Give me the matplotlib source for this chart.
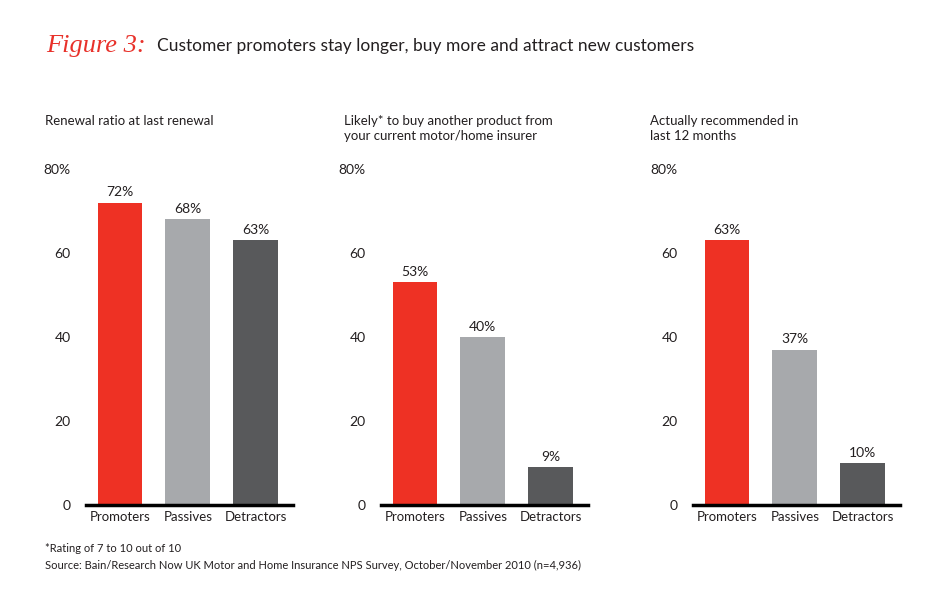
import matplotlib.pyplot as plt

categories = ["Promoters", "Passives", "Detractors"]
renewal = [72, 68, 63]
likely_buy = [53, 40, 9]
recommended = [63, 37, 10]
panel_titles = ["Renewal ratio at last renewal",
                "Likely* to buy another product from\nyour current motor/home insurer",
                "Actually recommended in\nlast 12 months"]
yticks = [0, 20, 40, 60, 80]
ytick_labels = ["0", "20", "40", "60", "80%"]

colors = ["#ee3124", "#a7a9ac", "#58595b"]
text_color = "#231f20"

plt.rcParams['font.family'] = ['Lato', 'DejaVu Sans']

fig = plt.figure(figsize=(9.5, 6.15), dpi=100)

# Title
fig.text(46 / 950, 1 - 46 / 615, "Figure 3:", color="#e8312a", fontsize=19,
         family="Liberation Serif", style="italic", va="center", ha="left")
fig.text(157 / 950, 1 - 46 / 615,
         "Customer promoters stay longer, buy more and attract new customers",
         color=text_color, fontsize=12.5, va="center", ha="left")

lefts = [86, 381, 693]
title_x = [45, 344, 650]
series = [renewal, likely_buy, recommended]

for left, tx, values, title in zip(lefts, title_x, series, panel_titles):
    ax = fig.add_axes([left / 950, 110 / 615, 207 / 950, 336 / 615])
    ax.bar(range(len(categories)), values, width=0.66, color=colors)
    ax.set_xlim(-0.5, 2.55)
    ax.set_ylim(0, 80)
    ax.set_yticks(yticks)
    ax.set_yticklabels(ytick_labels)
    ax.set_xticks(range(len(categories)))
    ax.set_xticklabels(categories)
    ax.tick_params(axis="y", length=0, pad=11, labelsize=10, labelcolor=text_color)
    ax.tick_params(axis="x", length=0, pad=4, labelsize=9.5, labelcolor=text_color)
    for side in ["top", "right", "left"]:
        ax.spines[side].set_visible(False)
    ax.spines["bottom"].set_linewidth(2.5)
    ax.spines["bottom"].set_color("black")
    for i, v in enumerate(values):
        ax.annotate(f"{v}%", (i, v), xytext=(0, 3), textcoords="offset points",
                    ha="center", va="bottom", fontsize=10, color=text_color)
    fig.text(tx / 950, 1 - 115 / 615, title, fontsize=9.5, color=text_color,
             va="top", ha="left", linespacing=1.35)

fig.text(45 / 950, 1 - 549 / 615, "*Rating of 7 to 10 out of 10",
         fontsize=8, color=text_color, va="center", ha="left")
fig.text(45 / 950, 1 - 565 / 615,
         "Source: Bain/Research Now UK Motor and Home Insurance NPS Survey, October/November 2010 (n=4,936)",
         fontsize=8, color=text_color, va="center", ha="left")

fig.savefig("out.png", dpi=100)
